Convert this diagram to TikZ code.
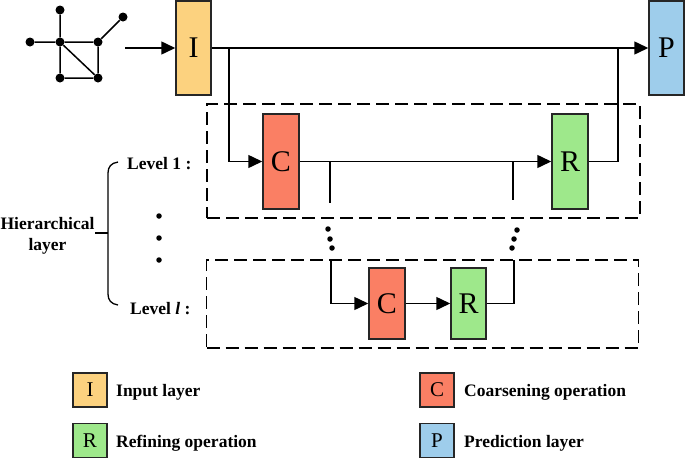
\documentclass[tikz,border=0pt]{standalone}
\usepackage{fontspec}
\setmainfont{Liberation Serif}
\usetikzlibrary{arrows.meta}
\definecolor{cI}{HTML}{FCD27F}
\definecolor{cC}{HTML}{FA7F64}
\definecolor{cR}{HTML}{9EE88B}
\definecolor{cP}{HTML}{9ECDEB}
\tikzset{
  ln/.style={line width=1.5pt, black},
  arr/.style={ln, -{Triangle[length=14pt,width=13pt]}},
  opbox/.style={draw=black!85, line width=1.5pt, rectangle, inner sep=0pt, minimum width=35pt, font=\fontsize{30}{32}\selectfont},
  legbox/.style={draw=black!85, line width=1.5pt, rectangle, inner sep=0pt, minimum width=34pt, minimum height=34pt, font=\fontsize{21}{23}\selectfont},
  dbox/.style={draw, line width=1.4pt, dash pattern=on 13pt off 6pt, rectangle, inner sep=0pt},
  lbl/.style={font=\fontsize{17.5}{21}\selectfont\bfseries, inner sep=0pt},
  gdot/.style={circle, fill=black, inner sep=0pt, minimum size=9pt},
  sdot/.style={circle, fill=black, inner sep=0pt, minimum size=5.5pt},
}
\begin{document}
\begin{tikzpicture}[x=1pt,y=-1pt]
\useasboundingbox (0,0) rectangle (685,458);

% graph icon
\node[gdot] (g1) at (60,10) {};
\node[gdot] (g2) at (30,42) {};
\node[gdot] (g3) at (60,42) {};
\node[gdot] (g4) at (98,42) {};
\node[gdot] (g5) at (123,17) {};
\node[gdot] (g6) at (60,78) {};
\node[gdot] (g7) at (98,78) {};
\draw[ln] (g1) -- (g3) (g2) -- (g3) (g3) -- (g4) (g4) -- (g5)
          (g3) -- (g6) (g3) -- (g7) (g4) -- (g7) (g6) -- (g7);

% dashed level boxes
\node[dbox, minimum width=433pt, minimum height=114pt] (lev1) at (423.5,161) {};
\node[dbox, minimum width=432pt, minimum height=88pt] (levl) at (422.5,304) {};

% operation boxes
\node[opbox, fill=cI, minimum height=94pt] (I) at (193.5,48) {I};
\node[opbox, fill=cP, minimum height=94pt] (P) at (666.5,48) {P};
\node[opbox, fill=cC, minimum height=95pt, minimum width=36pt] (C1) at (281,161.5) {C};
\node[opbox, fill=cR, minimum height=95pt, minimum width=36pt] (R1) at (570,161.5) {R};
\node[opbox, fill=cC, minimum height=71pt, minimum width=36pt] (C2) at (387,303.5) {C};
\node[opbox, fill=cR, minimum height=71pt] (R2) at (468.5,303.5) {R};

% connectors
\coordinate (gs) at (125,48);
\coordinate (b1) at (229,48);
\coordinate (b2) at (618,48);
\coordinate (t1) at (330,161.5);
\coordinate (t1e) at (330,203);
\coordinate (t2) at (513,161.5);
\coordinate (t2e) at (513,200);
\coordinate (u1) at (331,260);
\coordinate (u2) at (514,260);

\draw[arr] (gs) -- (I.west);
\draw[arr] (I.east) -- (P.west);
\draw[arr] (b1) |- (C1.west);
\draw[arr] (C1.east) -- (R1.west);
\draw[ln] (R1.east) -| (b2);
\draw[ln] (t1) -- (t1e);
\draw[ln] (t2) -- (t2e);
\draw[arr] (u1) |- (C2.west);
\draw[arr] (C2.east) -- (R2.west);
\draw[ln] (R2.east) -| (u2);

% vertical dots between levels
\node[sdot] (d1) at (328,229) {};
\node[sdot] (d2) at (330,239) {};
\node[sdot] (d3) at (332,248) {};
\node[sdot] (d4) at (517,230) {};
\node[sdot] (d5) at (514,239) {};
\node[sdot] (d6) at (512,248) {};
\node[sdot] (d7) at (159,216) {};
\node[sdot] (d8) at (159,238) {};
\node[sdot] (d9) at (159,260) {};

% labels
\node[lbl, anchor=base west] (tl1) at (127,169) {Level 1 :};
\node[lbl, anchor=base west] (tll) at (130,314) {Level \textit{l} :};
\node[lbl, align=center] (hier) at (47.5,236) {Hierarchical\\layer};

% brace
\draw[line width=1.3pt] (118,162) .. controls (111,163) and (108,167) .. (108,173)
  -- (108,294) .. controls (108,300) and (111,304) .. (118,305);
\draw[line width=1.3pt] (95,233) -- (108,233);

% legend
\node[legbox, fill=cI] (kI) at (90,390) {I};
\node[legbox, fill=cR] (kR) at (90,440.5) {R};
\node[legbox, fill=cC] (kC) at (437,390) {C};
\node[legbox, fill=cP] (kP) at (437,440.5) {P};
\node[lbl, anchor=base west] (tI) at (116,396) {Input layer};
\node[lbl, anchor=base west] (tR) at (116,447) {Refining operation};
\node[lbl, anchor=base west] (tC) at (464,396) {Coarsening operation};
\node[lbl, anchor=base west] (tP) at (464,447) {Prediction layer};
\end{tikzpicture}
\end{document}
